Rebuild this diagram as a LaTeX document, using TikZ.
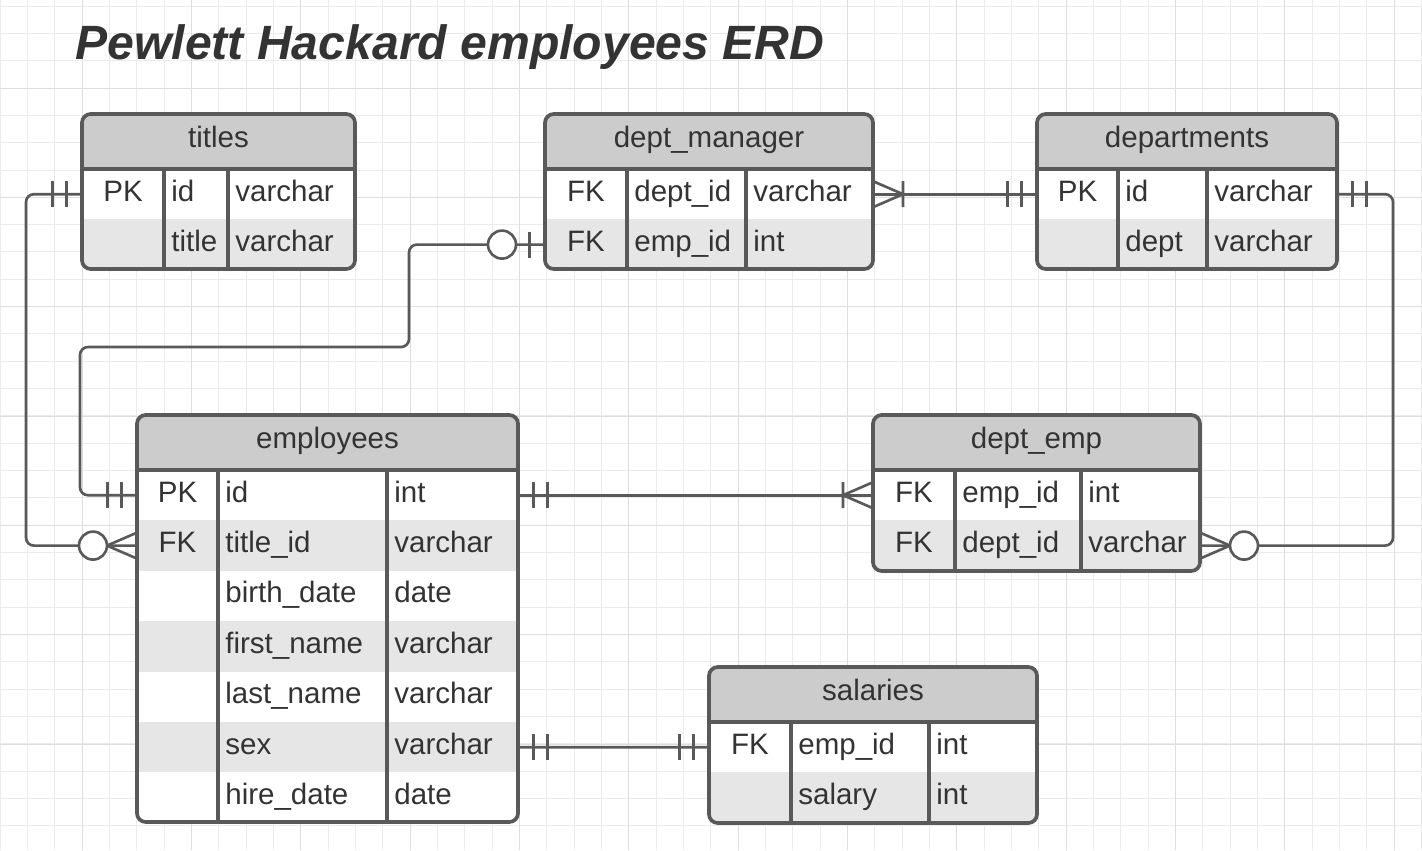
\documentclass[tikz,border=0pt]{standalone}
\usepackage{fontspec}
\setmainfont{Liberation Sans}

\definecolor{linec}{HTML}{595959}
\definecolor{txtc}{HTML}{333333}
\definecolor{hdrgray}{HTML}{CCCCCC}
\definecolor{rowgray}{HTML}{E6E6E6}
\definecolor{gridminor}{HTML}{EBEBEB}
\definecolor{gridmajor}{HTML}{DEDEDE}

% #1 name, #2 left, #3 top, #4 right, #5 key col, #6 type col, #7 bottom, #8 title, #9 rows
\newcommand{\erdtable}[9]{%
  \begin{scope}
    \clip[rounded corners=5pt] (#2,#3) rectangle (#4,#7);
    \fill[hdrgray] (#2,#3) rectangle (#4,#3+55);
    \foreach \fc/\key/\fld/\typ [count=\i] in {#9}{
      \node[rowbox,fill=\fc,minimum width={(#4-#2)*0.02cm},anchor=north west] (#1-\i) at (#2,{#3+55+50.4*(\i-1)}) {};
    }
  \end{scope}
  \node[celltext,anchor=base] (#1-h) at ({(#2+#4)/2},#3+33) {#8};
  \foreach \fc/\key/\fld/\typ [count=\i] in {#9}{
    \node[celltext,anchor=base] (#1-\i-k) at ({(#2+#5)/2},{#3+87+50.4*(\i-1)}) {\key};
    \node[celltext,anchor=base west] (#1-\i-n) at (#5+7,{#3+87+50.4*(\i-1)}) {\fld};
    \node[celltext,anchor=base west] (#1-\i-t) at (#6+7,{#3+87+50.4*(\i-1)}) {\typ};
  }
  \draw[tblline] (#2,#3+55) -- (#4,#3+55) (#5,#3+55) -- (#5,#7) (#6,#3+55) -- (#6,#7);
  \draw[tblline,rounded corners=5pt] (#2,#3) rectangle (#4,#7);
}

\begin{document}
\begin{tikzpicture}[x=0.02cm,y=-0.02cm,
    gridline/.style={draw=gridminor,line width=0.55pt},
    gridbold/.style={draw=gridmajor,line width=0.55pt},
    tblline/.style={draw=linec,line width=2.1pt},
    rowbox/.style={rectangle,inner sep=0pt,outer sep=0pt,minimum height=1.008cm},
    celltext/.style={inner sep=0pt,text=txtc,font=\fontsize{16.8}{20}\selectfont},
    titletext/.style={inner sep=0pt,text=txtc,font=\fontsize{27.4}{33}\selectfont\bfseries\itshape},
    link/.style={draw=linec,line width=1.5pt,rounded corners=4.5pt},
    sym/.style={draw=linec,line width=1.5pt},
    onlyone/.pic={\draw[sym] (-15.5,-13) -- (-15.5,13) (-29.5,-13) -- (-29.5,13);},
    zeroone/.pic={\draw[sym] (-15.5,-13) -- (-15.5,13); \draw[sym,fill=white] (-43,0) circle (14);},
    onemany/.pic={\draw[sym] (0,-13) -- (-30,0) -- (0,13) (-30,-13) -- (-30,13);},
    zeromany/.pic={\draw[sym] (0,-13) -- (-30,0) -- (0,13); \draw[sym,fill=white] (-44,0) circle (14);}]
  \useasboundingbox (0,0) rectangle (1422,850);
  \fill[white] (0,0) rectangle (1422,850);
  % background grid
  \foreach \g in {0,...,52} \draw[gridline] ({0.3+27.33*\g},0) -- ++(0,850);
  \foreach \g in {0,...,30} \draw[gridline] (0,{6+27.33*\g}) -- ++(1422,0);
  \foreach \g in {0,...,12} \draw[gridbold] ({82.3+109.33*\g},0) -- ++(0,850);
  \foreach \g in {0,...,6} \draw[gridbold] (0,{88+109.33*\g}) -- ++(1422,0);

  \node[titletext,anchor=base west] (title) at (75,59) {Pewlett Hackard employees ERD};

  % tables
  \erdtable{tit}{82}{114}{355}{164}{228}{269}{titles}{white/PK/id/varchar, rowgray//title/varchar}
  \erdtable{dm}{545}{114}{873}{627}{746}{269}{dept\_manager}{white/FK/dept\_id/varchar, rowgray/FK/emp\_id/int}
  \erdtable{dep}{1037}{114}{1337}{1118}{1207}{269}{departments}{white/PK/id/varchar, rowgray//dept/varchar}
  \erdtable{emp}{137}{415}{518}{218}{387}{822}{employees}{white/PK/id/int, rowgray/FK/title\_id/varchar, white//birth\_date/date, rowgray//first\_name/varchar, white//last\_name/varchar, rowgray//sex/varchar, white//hire\_date/date}
  \erdtable{de}{873}{415}{1200}{955}{1081}{571}{dept\_emp}{white/FK/emp\_id/int, rowgray/FK/dept\_id/varchar}
  \erdtable{sal}{709}{667}{1037}{791}{929}{823}{salaries}{white/FK/emp\_id/int, rowgray//salary/int}

  % relationships
  \draw[link] (tit-1.west) -- ++(-56,0) |- (emp-2.west);
  \draw[link] (dm-2.west) -| (409,347) -- (80,347) |- (emp-1.west);
  \draw[link] (dm-1.east) -- (dep-1.west);
  \draw[link] (dep-1.east) -- ++(56,0) |- (de-2.east);
  \draw[link] (emp-1.east) -- (de-1.west);
  \draw[link] (emp-6.east) -- (sal-1.west);

  % cardinality marks
  \path (tit-1.west) pic {onlyone};
  \path (emp-2.west) pic {zeromany};
  \path (dm-2.west) pic {zeroone};
  \path (emp-1.west) pic {onlyone};
  \path (dm-1.east) pic[rotate=180] {onemany};
  \path (dep-1.west) pic {onlyone};
  \path (dep-1.east) pic[rotate=180] {onlyone};
  \path (de-2.east) pic[rotate=180] {zeromany};
  \path (emp-1.east) pic[rotate=180] {onlyone};
  \path (de-1.west) pic {onemany};
  \path (emp-6.east) pic[rotate=180] {onlyone};
  \path (sal-1.west) pic {onlyone};
\end{tikzpicture}
\end{document}
